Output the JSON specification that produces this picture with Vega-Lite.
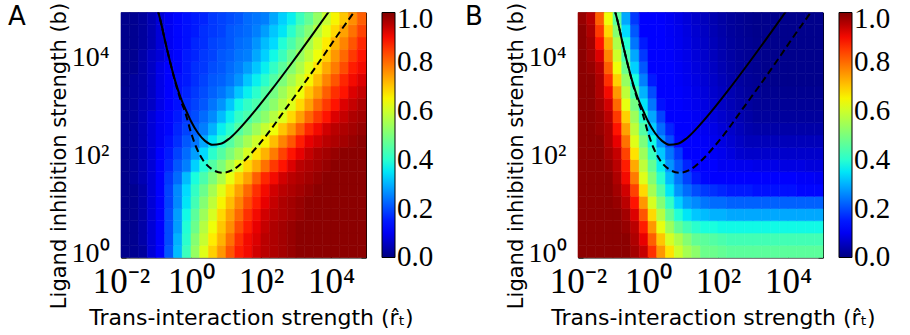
{
"$schema":"https://vega.github.io/schema/vega-lite/v6.json",
"background":"white",
"padding":{"left":7,"top":1.5,"right":0,"bottom":0},
"datasets":{
"A":[
{"x":-1.875,"y":0.125,"v":0.01},{"x":-1.625,"y":0.125,"v":0.015},{"x":-1.375,"y":0.125,"v":0.025},{"x":-1.125,"y":0.125,"v":0.075},{"x":-0.875,"y":0.125,"v":0.115},{"x":-0.625,"y":0.125,"v":0.21},{"x":-0.375,"y":0.125,"v":0.31},{"x":-0.125,"y":0.125,"v":0.42},{"x":0.125,"y":0.125,"v":0.53},{"x":0.375,"y":0.125,"v":0.62},{"x":0.625,"y":0.125,"v":0.69},{"x":0.875,"y":0.125,"v":0.75},{"x":1.125,"y":0.125,"v":0.82},{"x":1.375,"y":0.125,"v":0.88},{"x":1.625,"y":0.125,"v":0.9},{"x":1.875,"y":0.125,"v":0.93},{"x":2.125,"y":0.125,"v":0.95},{"x":2.375,"y":0.125,"v":0.96},{"x":2.625,"y":0.125,"v":0.97},{"x":2.875,"y":0.125,"v":0.98},{"x":3.125,"y":0.125,"v":0.99},{"x":3.375,"y":0.125,"v":0.99},{"x":3.625,"y":0.125,"v":0.99},{"x":3.875,"y":0.125,"v":0.99},{"x":4.125,"y":0.125,"v":0.99},{"x":4.375,"y":0.125,"v":0.99},{"x":4.625,"y":0.125,"v":0.99},{"x":4.875,"y":0.125,"v":0.99},
{"x":-1.875,"y":0.375,"v":0.01},{"x":-1.625,"y":0.375,"v":0.015},{"x":-1.375,"y":0.375,"v":0.035},{"x":-1.125,"y":0.375,"v":0.075},{"x":-0.875,"y":0.375,"v":0.115},{"x":-0.625,"y":0.375,"v":0.2},{"x":-0.375,"y":0.375,"v":0.3},{"x":-0.125,"y":0.375,"v":0.4},{"x":0.125,"y":0.375,"v":0.51},{"x":0.375,"y":0.375,"v":0.59},{"x":0.625,"y":0.375,"v":0.66},{"x":0.875,"y":0.375,"v":0.72},{"x":1.125,"y":0.375,"v":0.79},{"x":1.375,"y":0.375,"v":0.86},{"x":1.625,"y":0.375,"v":0.9},{"x":1.875,"y":0.375,"v":0.92},{"x":2.125,"y":0.375,"v":0.95},{"x":2.375,"y":0.375,"v":0.96},{"x":2.625,"y":0.375,"v":0.97},{"x":2.875,"y":0.375,"v":0.98},{"x":3.125,"y":0.375,"v":0.99},{"x":3.375,"y":0.375,"v":0.99},{"x":3.625,"y":0.375,"v":0.99},{"x":3.875,"y":0.375,"v":0.99},{"x":4.125,"y":0.375,"v":0.99},{"x":4.375,"y":0.375,"v":0.99},{"x":4.625,"y":0.375,"v":0.99},{"x":4.875,"y":0.375,"v":0.99},
{"x":-1.875,"y":0.625,"v":0.01},{"x":-1.625,"y":0.625,"v":0.015},{"x":-1.375,"y":0.625,"v":0.035},{"x":-1.125,"y":0.625,"v":0.075},{"x":-0.875,"y":0.625,"v":0.115},{"x":-0.625,"y":0.625,"v":0.2},{"x":-0.375,"y":0.625,"v":0.28},{"x":-0.125,"y":0.625,"v":0.39},{"x":0.125,"y":0.625,"v":0.48},{"x":0.375,"y":0.625,"v":0.57},{"x":0.625,"y":0.625,"v":0.64},{"x":0.875,"y":0.625,"v":0.7},{"x":1.125,"y":0.625,"v":0.76},{"x":1.375,"y":0.625,"v":0.83},{"x":1.625,"y":0.625,"v":0.88},{"x":1.875,"y":0.625,"v":0.91},{"x":2.125,"y":0.625,"v":0.94},{"x":2.375,"y":0.625,"v":0.96},{"x":2.625,"y":0.625,"v":0.97},{"x":2.875,"y":0.625,"v":0.98},{"x":3.125,"y":0.625,"v":0.99},{"x":3.375,"y":0.625,"v":0.99},{"x":3.625,"y":0.625,"v":0.99},{"x":3.875,"y":0.625,"v":0.99},{"x":4.125,"y":0.625,"v":0.99},{"x":4.375,"y":0.625,"v":0.99},{"x":4.625,"y":0.625,"v":0.99},{"x":4.875,"y":0.625,"v":0.99},
{"x":-1.875,"y":0.875,"v":0.01},{"x":-1.625,"y":0.875,"v":0.015},{"x":-1.375,"y":0.875,"v":0.035},{"x":-1.125,"y":0.875,"v":0.075},{"x":-0.875,"y":0.875,"v":0.115},{"x":-0.625,"y":0.875,"v":0.2},{"x":-0.375,"y":0.875,"v":0.28},{"x":-0.125,"y":0.875,"v":0.37},{"x":0.125,"y":0.875,"v":0.46},{"x":0.375,"y":0.875,"v":0.54},{"x":0.625,"y":0.875,"v":0.61},{"x":0.875,"y":0.875,"v":0.68},{"x":1.125,"y":0.875,"v":0.74},{"x":1.375,"y":0.875,"v":0.8},{"x":1.625,"y":0.875,"v":0.86},{"x":1.875,"y":0.875,"v":0.9},{"x":2.125,"y":0.875,"v":0.93},{"x":2.375,"y":0.875,"v":0.95},{"x":2.625,"y":0.875,"v":0.96},{"x":2.875,"y":0.875,"v":0.97},{"x":3.125,"y":0.875,"v":0.98},{"x":3.375,"y":0.875,"v":0.99},{"x":3.625,"y":0.875,"v":0.99},{"x":3.875,"y":0.875,"v":0.99},{"x":4.125,"y":0.875,"v":0.99},{"x":4.375,"y":0.875,"v":0.99},{"x":4.625,"y":0.875,"v":0.99},{"x":4.875,"y":0.875,"v":0.99},
{"x":-1.875,"y":1.125,"v":0.01},{"x":-1.625,"y":1.125,"v":0.015},{"x":-1.375,"y":1.125,"v":0.035},{"x":-1.125,"y":1.125,"v":0.075},{"x":-0.875,"y":1.125,"v":0.115},{"x":-0.625,"y":1.125,"v":0.19},{"x":-0.375,"y":1.125,"v":0.26},{"x":-0.125,"y":1.125,"v":0.35},{"x":0.125,"y":1.125,"v":0.43},{"x":0.375,"y":1.125,"v":0.51},{"x":0.625,"y":1.125,"v":0.58},{"x":0.875,"y":1.125,"v":0.65},{"x":1.125,"y":1.125,"v":0.71},{"x":1.375,"y":1.125,"v":0.77},{"x":1.625,"y":1.125,"v":0.83},{"x":1.875,"y":1.125,"v":0.88},{"x":2.125,"y":1.125,"v":0.91},{"x":2.375,"y":1.125,"v":0.94},{"x":2.625,"y":1.125,"v":0.96},{"x":2.875,"y":1.125,"v":0.97},{"x":3.125,"y":1.125,"v":0.98},{"x":3.375,"y":1.125,"v":0.99},{"x":3.625,"y":1.125,"v":0.99},{"x":3.875,"y":1.125,"v":0.99},{"x":4.125,"y":1.125,"v":0.99},{"x":4.375,"y":1.125,"v":0.99},{"x":4.625,"y":1.125,"v":0.99},{"x":4.875,"y":1.125,"v":0.99},
{"x":-1.875,"y":1.375,"v":0.01},{"x":-1.625,"y":1.375,"v":0.015},{"x":-1.375,"y":1.375,"v":0.035},{"x":-1.125,"y":1.375,"v":0.075},{"x":-0.875,"y":1.375,"v":0.115},{"x":-0.625,"y":1.375,"v":0.19},{"x":-0.375,"y":1.375,"v":0.26},{"x":-0.125,"y":1.375,"v":0.34},{"x":0.125,"y":1.375,"v":0.41},{"x":0.375,"y":1.375,"v":0.48},{"x":0.625,"y":1.375,"v":0.55},{"x":0.875,"y":1.375,"v":0.62},{"x":1.125,"y":1.375,"v":0.68},{"x":1.375,"y":1.375,"v":0.74},{"x":1.625,"y":1.375,"v":0.8},{"x":1.875,"y":1.375,"v":0.86},{"x":2.125,"y":1.375,"v":0.9},{"x":2.375,"y":1.375,"v":0.93},{"x":2.625,"y":1.375,"v":0.95},{"x":2.875,"y":1.375,"v":0.96},{"x":3.125,"y":1.375,"v":0.97},{"x":3.375,"y":1.375,"v":0.98},{"x":3.625,"y":1.375,"v":0.99},{"x":3.875,"y":1.375,"v":0.99},{"x":4.125,"y":1.375,"v":0.99},{"x":4.375,"y":1.375,"v":0.99},{"x":4.625,"y":1.375,"v":0.99},{"x":4.875,"y":1.375,"v":0.99},
{"x":-1.875,"y":1.625,"v":0.01},{"x":-1.625,"y":1.625,"v":0.025},{"x":-1.375,"y":1.625,"v":0.045},{"x":-1.125,"y":1.625,"v":0.075},{"x":-0.875,"y":1.625,"v":0.115},{"x":-0.625,"y":1.625,"v":0.18},{"x":-0.375,"y":1.625,"v":0.23},{"x":-0.125,"y":1.625,"v":0.31},{"x":0.125,"y":1.625,"v":0.38},{"x":0.375,"y":1.625,"v":0.44},{"x":0.625,"y":1.625,"v":0.5},{"x":0.875,"y":1.625,"v":0.56},{"x":1.125,"y":1.625,"v":0.63},{"x":1.375,"y":1.625,"v":0.69},{"x":1.625,"y":1.625,"v":0.74},{"x":1.875,"y":1.625,"v":0.81},{"x":2.125,"y":1.625,"v":0.87},{"x":2.375,"y":1.625,"v":0.9},{"x":2.625,"y":1.625,"v":0.93},{"x":2.875,"y":1.625,"v":0.95},{"x":3.125,"y":1.625,"v":0.96},{"x":3.375,"y":1.625,"v":0.97},{"x":3.625,"y":1.625,"v":0.98},{"x":3.875,"y":1.625,"v":0.99},{"x":4.125,"y":1.625,"v":0.99},{"x":4.375,"y":1.625,"v":0.99},{"x":4.625,"y":1.625,"v":0.99},{"x":4.875,"y":1.625,"v":0.99},
{"x":-1.875,"y":1.875,"v":0.01},{"x":-1.625,"y":1.875,"v":0.025},{"x":-1.375,"y":1.875,"v":0.045},{"x":-1.125,"y":1.875,"v":0.075},{"x":-0.875,"y":1.875,"v":0.115},{"x":-0.625,"y":1.875,"v":0.16},{"x":-0.375,"y":1.875,"v":0.21},{"x":-0.125,"y":1.875,"v":0.25},{"x":0.125,"y":1.875,"v":0.33},{"x":0.375,"y":1.875,"v":0.39},{"x":0.625,"y":1.875,"v":0.45},{"x":0.875,"y":1.875,"v":0.5},{"x":1.125,"y":1.875,"v":0.56},{"x":1.375,"y":1.875,"v":0.62},{"x":1.625,"y":1.875,"v":0.68},{"x":1.875,"y":1.875,"v":0.73},{"x":2.125,"y":1.875,"v":0.79},{"x":2.375,"y":1.875,"v":0.85},{"x":2.625,"y":1.875,"v":0.89},{"x":2.875,"y":1.875,"v":0.92},{"x":3.125,"y":1.875,"v":0.95},{"x":3.375,"y":1.875,"v":0.96},{"x":3.625,"y":1.875,"v":0.97},{"x":3.875,"y":1.875,"v":0.98},{"x":4.125,"y":1.875,"v":0.99},{"x":4.375,"y":1.875,"v":0.99},{"x":4.625,"y":1.875,"v":0.99},{"x":4.875,"y":1.875,"v":0.99},
{"x":-1.875,"y":2.125,"v":0.01},{"x":-1.625,"y":2.125,"v":0.025},{"x":-1.375,"y":2.125,"v":0.045},{"x":-1.125,"y":2.125,"v":0.075},{"x":-0.875,"y":2.125,"v":0.115},{"x":-0.625,"y":2.125,"v":0.15},{"x":-0.375,"y":2.125,"v":0.19},{"x":-0.125,"y":2.125,"v":0.23},{"x":0.125,"y":2.125,"v":0.28},{"x":0.375,"y":2.125,"v":0.34},{"x":0.625,"y":2.125,"v":0.4},{"x":0.875,"y":2.125,"v":0.45},{"x":1.125,"y":2.125,"v":0.5},{"x":1.375,"y":2.125,"v":0.55},{"x":1.625,"y":2.125,"v":0.61},{"x":1.875,"y":2.125,"v":0.67},{"x":2.125,"y":2.125,"v":0.72},{"x":2.375,"y":2.125,"v":0.78},{"x":2.625,"y":2.125,"v":0.84},{"x":2.875,"y":2.125,"v":0.89},{"x":3.125,"y":2.125,"v":0.91},{"x":3.375,"y":2.125,"v":0.94},{"x":3.625,"y":2.125,"v":0.96},{"x":3.875,"y":2.125,"v":0.97},{"x":4.125,"y":2.125,"v":0.98},{"x":4.375,"y":2.125,"v":0.99},{"x":4.625,"y":2.125,"v":0.99},{"x":4.875,"y":2.125,"v":0.99},
{"x":-1.875,"y":2.375,"v":0.015},{"x":-1.625,"y":2.375,"v":0.025},{"x":-1.375,"y":2.375,"v":0.045},{"x":-1.125,"y":2.375,"v":0.075},{"x":-0.875,"y":2.375,"v":0.1},{"x":-0.625,"y":2.375,"v":0.14},{"x":-0.375,"y":2.375,"v":0.17},{"x":-0.125,"y":2.375,"v":0.21},{"x":0.125,"y":2.375,"v":0.24},{"x":0.375,"y":2.375,"v":0.29},{"x":0.625,"y":2.375,"v":0.35},{"x":0.875,"y":2.375,"v":0.4},{"x":1.125,"y":2.375,"v":0.45},{"x":1.375,"y":2.375,"v":0.5},{"x":1.625,"y":2.375,"v":0.55},{"x":1.875,"y":2.375,"v":0.6},{"x":2.125,"y":2.375,"v":0.65},{"x":2.375,"y":2.375,"v":0.71},{"x":2.625,"y":2.375,"v":0.77},{"x":2.875,"y":2.375,"v":0.82},{"x":3.125,"y":2.375,"v":0.88},{"x":3.375,"y":2.375,"v":0.91},{"x":3.625,"y":2.375,"v":0.93},{"x":3.875,"y":2.375,"v":0.95},{"x":4.125,"y":2.375,"v":0.96},{"x":4.375,"y":2.375,"v":0.97},{"x":4.625,"y":2.375,"v":0.98},{"x":4.875,"y":2.375,"v":0.99},
{"x":-1.875,"y":2.625,"v":0.015},{"x":-1.625,"y":2.625,"v":0.025},{"x":-1.375,"y":2.625,"v":0.045},{"x":-1.125,"y":2.625,"v":0.075},{"x":-0.875,"y":2.625,"v":0.1},{"x":-0.625,"y":2.625,"v":0.13},{"x":-0.375,"y":2.625,"v":0.16},{"x":-0.125,"y":2.625,"v":0.19},{"x":0.125,"y":2.625,"v":0.22},{"x":0.375,"y":2.625,"v":0.25},{"x":0.625,"y":2.625,"v":0.3},{"x":0.875,"y":2.625,"v":0.36},{"x":1.125,"y":2.625,"v":0.4},{"x":1.375,"y":2.625,"v":0.45},{"x":1.625,"y":2.625,"v":0.49},{"x":1.875,"y":2.625,"v":0.54},{"x":2.125,"y":2.625,"v":0.59},{"x":2.375,"y":2.625,"v":0.64},{"x":2.625,"y":2.625,"v":0.7},{"x":2.875,"y":2.625,"v":0.75},{"x":3.125,"y":2.625,"v":0.81},{"x":3.375,"y":2.625,"v":0.87},{"x":3.625,"y":2.625,"v":0.9},{"x":3.875,"y":2.625,"v":0.93},{"x":4.125,"y":2.625,"v":0.95},{"x":4.375,"y":2.625,"v":0.96},{"x":4.625,"y":2.625,"v":0.97},{"x":4.875,"y":2.625,"v":0.98},
{"x":-1.875,"y":2.875,"v":0.015},{"x":-1.625,"y":2.875,"v":0.025},{"x":-1.375,"y":2.875,"v":0.045},{"x":-1.125,"y":2.875,"v":0.075},{"x":-0.875,"y":2.875,"v":0.1},{"x":-0.625,"y":2.875,"v":0.13},{"x":-0.375,"y":2.875,"v":0.15},{"x":-0.125,"y":2.875,"v":0.18},{"x":0.125,"y":2.875,"v":0.2},{"x":0.375,"y":2.875,"v":0.23},{"x":0.625,"y":2.875,"v":0.26},{"x":0.875,"y":2.875,"v":0.31},{"x":1.125,"y":2.875,"v":0.36},{"x":1.375,"y":2.875,"v":0.41},{"x":1.625,"y":2.875,"v":0.44},{"x":1.875,"y":2.875,"v":0.48},{"x":2.125,"y":2.875,"v":0.52},{"x":2.375,"y":2.875,"v":0.57},{"x":2.625,"y":2.875,"v":0.62},{"x":2.875,"y":2.875,"v":0.68},{"x":3.125,"y":2.875,"v":0.74},{"x":3.375,"y":2.875,"v":0.8},{"x":3.625,"y":2.875,"v":0.85},{"x":3.875,"y":2.875,"v":0.89},{"x":4.125,"y":2.875,"v":0.92},{"x":4.375,"y":2.875,"v":0.94},{"x":4.625,"y":2.875,"v":0.96},{"x":4.875,"y":2.875,"v":0.97},
{"x":-1.875,"y":3.125,"v":0.015},{"x":-1.625,"y":3.125,"v":0.025},{"x":-1.375,"y":3.125,"v":0.045},{"x":-1.125,"y":3.125,"v":0.06},{"x":-0.875,"y":3.125,"v":0.09},{"x":-0.625,"y":3.125,"v":0.115},{"x":-0.375,"y":3.125,"v":0.14},{"x":-0.125,"y":3.125,"v":0.17},{"x":0.125,"y":3.125,"v":0.19},{"x":0.375,"y":3.125,"v":0.21},{"x":0.625,"y":3.125,"v":0.24},{"x":0.875,"y":3.125,"v":0.27},{"x":1.125,"y":3.125,"v":0.32},{"x":1.375,"y":3.125,"v":0.37},{"x":1.625,"y":3.125,"v":0.41},{"x":1.875,"y":3.125,"v":0.44},{"x":2.125,"y":3.125,"v":0.48},{"x":2.375,"y":3.125,"v":0.52},{"x":2.625,"y":3.125,"v":0.57},{"x":2.875,"y":3.125,"v":0.62},{"x":3.125,"y":3.125,"v":0.68},{"x":3.375,"y":3.125,"v":0.74},{"x":3.625,"y":3.125,"v":0.8},{"x":3.875,"y":3.125,"v":0.85},{"x":4.125,"y":3.125,"v":0.89},{"x":4.375,"y":3.125,"v":0.92},{"x":4.625,"y":3.125,"v":0.94},{"x":4.875,"y":3.125,"v":0.96},
{"x":-1.875,"y":3.375,"v":0.015},{"x":-1.625,"y":3.375,"v":0.025},{"x":-1.375,"y":3.375,"v":0.035},{"x":-1.125,"y":3.375,"v":0.06},{"x":-0.875,"y":3.375,"v":0.09},{"x":-0.625,"y":3.375,"v":0.115},{"x":-0.375,"y":3.375,"v":0.14},{"x":-0.125,"y":3.375,"v":0.16},{"x":0.125,"y":3.375,"v":0.18},{"x":0.375,"y":3.375,"v":0.2},{"x":0.625,"y":3.375,"v":0.22},{"x":0.875,"y":3.375,"v":0.24},{"x":1.125,"y":3.375,"v":0.27},{"x":1.375,"y":3.375,"v":0.32},{"x":1.625,"y":3.375,"v":0.36},{"x":1.875,"y":3.375,"v":0.4},{"x":2.125,"y":3.375,"v":0.45},{"x":2.375,"y":3.375,"v":0.49},{"x":2.625,"y":3.375,"v":0.54},{"x":2.875,"y":3.375,"v":0.59},{"x":3.125,"y":3.375,"v":0.64},{"x":3.375,"y":3.375,"v":0.7},{"x":3.625,"y":3.375,"v":0.75},{"x":3.875,"y":3.375,"v":0.81},{"x":4.125,"y":3.375,"v":0.86},{"x":4.375,"y":3.375,"v":0.89},{"x":4.625,"y":3.375,"v":0.92},{"x":4.875,"y":3.375,"v":0.94},
{"x":-1.875,"y":3.625,"v":0.01},{"x":-1.625,"y":3.625,"v":0.025},{"x":-1.375,"y":3.625,"v":0.035},{"x":-1.125,"y":3.625,"v":0.06},{"x":-0.875,"y":3.625,"v":0.09},{"x":-0.625,"y":3.625,"v":0.115},{"x":-0.375,"y":3.625,"v":0.14},{"x":-0.125,"y":3.625,"v":0.15},{"x":0.125,"y":3.625,"v":0.17},{"x":0.375,"y":3.625,"v":0.19},{"x":0.625,"y":3.625,"v":0.21},{"x":0.875,"y":3.625,"v":0.22},{"x":1.125,"y":3.625,"v":0.24},{"x":1.375,"y":3.625,"v":0.27},{"x":1.625,"y":3.625,"v":0.32},{"x":1.875,"y":3.625,"v":0.36},{"x":2.125,"y":3.625,"v":0.4},{"x":2.375,"y":3.625,"v":0.45},{"x":2.625,"y":3.625,"v":0.5},{"x":2.875,"y":3.625,"v":0.55},{"x":3.125,"y":3.625,"v":0.6},{"x":3.375,"y":3.625,"v":0.65},{"x":3.625,"y":3.625,"v":0.71},{"x":3.875,"y":3.625,"v":0.77},{"x":4.125,"y":3.625,"v":0.82},{"x":4.375,"y":3.625,"v":0.87},{"x":4.625,"y":3.625,"v":0.9},{"x":4.875,"y":3.625,"v":0.92},
{"x":-1.875,"y":3.875,"v":0.01},{"x":-1.625,"y":3.875,"v":0.015},{"x":-1.375,"y":3.875,"v":0.035},{"x":-1.125,"y":3.875,"v":0.06},{"x":-0.875,"y":3.875,"v":0.09},{"x":-0.625,"y":3.875,"v":0.115},{"x":-0.375,"y":3.875,"v":0.13},{"x":-0.125,"y":3.875,"v":0.15},{"x":0.125,"y":3.875,"v":0.17},{"x":0.375,"y":3.875,"v":0.18},{"x":0.625,"y":3.875,"v":0.2},{"x":0.875,"y":3.875,"v":0.21},{"x":1.125,"y":3.875,"v":0.23},{"x":1.375,"y":3.875,"v":0.25},{"x":1.625,"y":3.875,"v":0.28},{"x":1.875,"y":3.875,"v":0.32},{"x":2.125,"y":3.875,"v":0.36},{"x":2.375,"y":3.875,"v":0.41},{"x":2.625,"y":3.875,"v":0.46},{"x":2.875,"y":3.875,"v":0.51},{"x":3.125,"y":3.875,"v":0.56},{"x":3.375,"y":3.875,"v":0.62},{"x":3.625,"y":3.875,"v":0.67},{"x":3.875,"y":3.875,"v":0.73},{"x":4.125,"y":3.875,"v":0.78},{"x":4.375,"y":3.875,"v":0.83},{"x":4.625,"y":3.875,"v":0.88},{"x":4.875,"y":3.875,"v":0.9},
{"x":-1.875,"y":4.125,"v":0.01},{"x":-1.625,"y":4.125,"v":0.015},{"x":-1.375,"y":4.125,"v":0.035},{"x":-1.125,"y":4.125,"v":0.06},{"x":-0.875,"y":4.125,"v":0.075},{"x":-0.625,"y":4.125,"v":0.1},{"x":-0.375,"y":4.125,"v":0.13},{"x":-0.125,"y":4.125,"v":0.15},{"x":0.125,"y":4.125,"v":0.16},{"x":0.375,"y":4.125,"v":0.18},{"x":0.625,"y":4.125,"v":0.19},{"x":0.875,"y":4.125,"v":0.21},{"x":1.125,"y":4.125,"v":0.22},{"x":1.375,"y":4.125,"v":0.24},{"x":1.625,"y":4.125,"v":0.25},{"x":1.875,"y":4.125,"v":0.29},{"x":2.125,"y":4.125,"v":0.33},{"x":2.375,"y":4.125,"v":0.37},{"x":2.625,"y":4.125,"v":0.42},{"x":2.875,"y":4.125,"v":0.48},{"x":3.125,"y":4.125,"v":0.53},{"x":3.375,"y":4.125,"v":0.58},{"x":3.625,"y":4.125,"v":0.64},{"x":3.875,"y":4.125,"v":0.69},{"x":4.125,"y":4.125,"v":0.75},{"x":4.375,"y":4.125,"v":0.8},{"x":4.625,"y":4.125,"v":0.85},{"x":4.875,"y":4.125,"v":0.89},
{"x":-1.875,"y":4.375,"v":0.01},{"x":-1.625,"y":4.375,"v":0.015},{"x":-1.375,"y":4.375,"v":0.025},{"x":-1.125,"y":4.375,"v":0.045},{"x":-0.875,"y":4.375,"v":0.075},{"x":-0.625,"y":4.375,"v":0.1},{"x":-0.375,"y":4.375,"v":0.13},{"x":-0.125,"y":4.375,"v":0.14},{"x":0.125,"y":4.375,"v":0.16},{"x":0.375,"y":4.375,"v":0.17},{"x":0.625,"y":4.375,"v":0.19},{"x":0.875,"y":4.375,"v":0.2},{"x":1.125,"y":4.375,"v":0.21},{"x":1.375,"y":4.375,"v":0.23},{"x":1.625,"y":4.375,"v":0.24},{"x":1.875,"y":4.375,"v":0.27},{"x":2.125,"y":4.375,"v":0.31},{"x":2.375,"y":4.375,"v":0.34},{"x":2.625,"y":4.375,"v":0.39},{"x":2.875,"y":4.375,"v":0.44},{"x":3.125,"y":4.375,"v":0.49},{"x":3.375,"y":4.375,"v":0.55},{"x":3.625,"y":4.375,"v":0.61},{"x":3.875,"y":4.375,"v":0.66},{"x":4.125,"y":4.375,"v":0.72},{"x":4.375,"y":4.375,"v":0.77},{"x":4.625,"y":4.375,"v":0.82},{"x":4.875,"y":4.375,"v":0.87},
{"x":-1.875,"y":4.625,"v":0.01},{"x":-1.625,"y":4.625,"v":0.015},{"x":-1.375,"y":4.625,"v":0.025},{"x":-1.125,"y":4.625,"v":0.045},{"x":-0.875,"y":4.625,"v":0.075},{"x":-0.625,"y":4.625,"v":0.1},{"x":-0.375,"y":4.625,"v":0.13},{"x":-0.125,"y":4.625,"v":0.14},{"x":0.125,"y":4.625,"v":0.15},{"x":0.375,"y":4.625,"v":0.17},{"x":0.625,"y":4.625,"v":0.18},{"x":0.875,"y":4.625,"v":0.19},{"x":1.125,"y":4.625,"v":0.21},{"x":1.375,"y":4.625,"v":0.22},{"x":1.625,"y":4.625,"v":0.23},{"x":1.875,"y":4.625,"v":0.25},{"x":2.125,"y":4.625,"v":0.28},{"x":2.375,"y":4.625,"v":0.32},{"x":2.625,"y":4.625,"v":0.35},{"x":2.875,"y":4.625,"v":0.4},{"x":3.125,"y":4.625,"v":0.46},{"x":3.375,"y":4.625,"v":0.51},{"x":3.625,"y":4.625,"v":0.57},{"x":3.875,"y":4.625,"v":0.63},{"x":4.125,"y":4.625,"v":0.68},{"x":4.375,"y":4.625,"v":0.74},{"x":4.625,"y":4.625,"v":0.79},{"x":4.875,"y":4.625,"v":0.84},
{"x":-1.875,"y":4.875,"v":0.01},{"x":-1.625,"y":4.875,"v":0.015},{"x":-1.375,"y":4.875,"v":0.025},{"x":-1.125,"y":4.875,"v":0.045},{"x":-0.875,"y":4.875,"v":0.075},{"x":-0.625,"y":4.875,"v":0.1},{"x":-0.375,"y":4.875,"v":0.13},{"x":-0.125,"y":4.875,"v":0.14},{"x":0.125,"y":4.875,"v":0.15},{"x":0.375,"y":4.875,"v":0.16},{"x":0.625,"y":4.875,"v":0.18},{"x":0.875,"y":4.875,"v":0.19},{"x":1.125,"y":4.875,"v":0.2},{"x":1.375,"y":4.875,"v":0.21},{"x":1.625,"y":4.875,"v":0.23},{"x":1.875,"y":4.875,"v":0.24},{"x":2.125,"y":4.875,"v":0.25},{"x":2.375,"y":4.875,"v":0.29},{"x":2.625,"y":4.875,"v":0.33},{"x":2.875,"y":4.875,"v":0.36},{"x":3.125,"y":4.875,"v":0.42},{"x":3.375,"y":4.875,"v":0.47},{"x":3.625,"y":4.875,"v":0.53},{"x":3.875,"y":4.875,"v":0.59},{"x":4.125,"y":4.875,"v":0.65},{"x":4.375,"y":4.875,"v":0.7},{"x":4.625,"y":4.875,"v":0.76},{"x":4.875,"y":4.875,"v":0.81}
],
"B":[
{"x":-1.875,"y":0.125,"v":0.99},{"x":-1.625,"y":0.125,"v":0.99},{"x":-1.375,"y":0.125,"v":0.99},{"x":-1.125,"y":0.125,"v":0.99},{"x":-0.875,"y":0.125,"v":0.99},{"x":-0.625,"y":0.125,"v":0.99},{"x":-0.375,"y":0.125,"v":0.97},{"x":-0.125,"y":0.125,"v":0.94},{"x":0.125,"y":0.125,"v":0.86},{"x":0.375,"y":0.125,"v":0.75},{"x":0.625,"y":0.125,"v":0.67},{"x":0.875,"y":0.125,"v":0.6},{"x":1.125,"y":0.125,"v":0.55},{"x":1.375,"y":0.125,"v":0.52},{"x":1.625,"y":0.125,"v":0.48},{"x":1.875,"y":0.125,"v":0.48},{"x":2.125,"y":0.125,"v":0.47},{"x":2.375,"y":0.125,"v":0.46},{"x":2.625,"y":0.125,"v":0.46},{"x":2.875,"y":0.125,"v":0.46},{"x":3.125,"y":0.125,"v":0.46},{"x":3.375,"y":0.125,"v":0.46},{"x":3.625,"y":0.125,"v":0.46},{"x":3.875,"y":0.125,"v":0.46},{"x":4.125,"y":0.125,"v":0.46},{"x":4.375,"y":0.125,"v":0.46},{"x":4.625,"y":0.125,"v":0.46},{"x":4.875,"y":0.125,"v":0.46},
{"x":-1.875,"y":0.375,"v":0.99},{"x":-1.625,"y":0.375,"v":0.99},{"x":-1.375,"y":0.375,"v":0.99},{"x":-1.125,"y":0.375,"v":0.99},{"x":-0.875,"y":0.375,"v":0.99},{"x":-0.625,"y":0.375,"v":0.99},{"x":-0.375,"y":0.375,"v":0.96},{"x":-0.125,"y":0.375,"v":0.91},{"x":0.125,"y":0.375,"v":0.81},{"x":0.375,"y":0.375,"v":0.7},{"x":0.625,"y":0.375,"v":0.61},{"x":0.875,"y":0.375,"v":0.56},{"x":1.125,"y":0.375,"v":0.51},{"x":1.375,"y":0.375,"v":0.47},{"x":1.625,"y":0.375,"v":0.46},{"x":1.875,"y":0.375,"v":0.45},{"x":2.125,"y":0.375,"v":0.44},{"x":2.375,"y":0.375,"v":0.43},{"x":2.625,"y":0.375,"v":0.43},{"x":2.875,"y":0.375,"v":0.43},{"x":3.125,"y":0.375,"v":0.43},{"x":3.375,"y":0.375,"v":0.43},{"x":3.625,"y":0.375,"v":0.43},{"x":3.875,"y":0.375,"v":0.43},{"x":4.125,"y":0.375,"v":0.43},{"x":4.375,"y":0.375,"v":0.43},{"x":4.625,"y":0.375,"v":0.43},{"x":4.875,"y":0.375,"v":0.43},
{"x":-1.875,"y":0.625,"v":0.99},{"x":-1.625,"y":0.625,"v":0.99},{"x":-1.375,"y":0.625,"v":0.99},{"x":-1.125,"y":0.625,"v":0.99},{"x":-0.875,"y":0.625,"v":0.99},{"x":-0.625,"y":0.625,"v":0.98},{"x":-0.375,"y":0.625,"v":0.95},{"x":-0.125,"y":0.625,"v":0.88},{"x":0.125,"y":0.625,"v":0.75},{"x":0.375,"y":0.625,"v":0.63},{"x":0.625,"y":0.625,"v":0.54},{"x":0.875,"y":0.625,"v":0.47},{"x":1.125,"y":0.625,"v":0.43},{"x":1.375,"y":0.625,"v":0.4},{"x":1.625,"y":0.625,"v":0.38},{"x":1.875,"y":0.625,"v":0.38},{"x":2.125,"y":0.625,"v":0.37},{"x":2.375,"y":0.625,"v":0.37},{"x":2.625,"y":0.625,"v":0.37},{"x":2.875,"y":0.625,"v":0.37},{"x":3.125,"y":0.625,"v":0.37},{"x":3.375,"y":0.625,"v":0.37},{"x":3.625,"y":0.625,"v":0.37},{"x":3.875,"y":0.625,"v":0.37},{"x":4.125,"y":0.625,"v":0.37},{"x":4.375,"y":0.625,"v":0.37},{"x":4.625,"y":0.625,"v":0.37},{"x":4.875,"y":0.625,"v":0.37},
{"x":-1.875,"y":0.875,"v":0.99},{"x":-1.625,"y":0.875,"v":0.99},{"x":-1.375,"y":0.875,"v":0.99},{"x":-1.125,"y":0.875,"v":0.99},{"x":-0.875,"y":0.875,"v":0.99},{"x":-0.625,"y":0.875,"v":0.97},{"x":-0.375,"y":0.875,"v":0.92},{"x":-0.125,"y":0.875,"v":0.82},{"x":0.125,"y":0.875,"v":0.68},{"x":0.375,"y":0.875,"v":0.57},{"x":0.625,"y":0.875,"v":0.47},{"x":0.875,"y":0.875,"v":0.39},{"x":1.125,"y":0.875,"v":0.35},{"x":1.375,"y":0.875,"v":0.32},{"x":1.625,"y":0.875,"v":0.31},{"x":1.875,"y":0.875,"v":0.3},{"x":2.125,"y":0.875,"v":0.3},{"x":2.375,"y":0.875,"v":0.29},{"x":2.625,"y":0.875,"v":0.29},{"x":2.875,"y":0.875,"v":0.29},{"x":3.125,"y":0.875,"v":0.29},{"x":3.375,"y":0.875,"v":0.29},{"x":3.625,"y":0.875,"v":0.29},{"x":3.875,"y":0.875,"v":0.29},{"x":4.125,"y":0.875,"v":0.29},{"x":4.375,"y":0.875,"v":0.29},{"x":4.625,"y":0.875,"v":0.29},{"x":4.875,"y":0.875,"v":0.29},
{"x":-1.875,"y":1.125,"v":0.99},{"x":-1.625,"y":1.125,"v":0.99},{"x":-1.375,"y":1.125,"v":0.99},{"x":-1.125,"y":1.125,"v":0.99},{"x":-0.875,"y":1.125,"v":0.98},{"x":-0.625,"y":1.125,"v":0.95},{"x":-0.375,"y":1.125,"v":0.89},{"x":-0.125,"y":1.125,"v":0.75},{"x":0.125,"y":1.125,"v":0.61},{"x":0.375,"y":1.125,"v":0.51},{"x":0.625,"y":1.125,"v":0.41},{"x":0.875,"y":1.125,"v":0.33},{"x":1.125,"y":1.125,"v":0.28},{"x":1.375,"y":1.125,"v":0.26},{"x":1.625,"y":1.125,"v":0.24},{"x":1.875,"y":1.125,"v":0.23},{"x":2.125,"y":1.125,"v":0.23},{"x":2.375,"y":1.125,"v":0.22},{"x":2.625,"y":1.125,"v":0.22},{"x":2.875,"y":1.125,"v":0.22},{"x":3.125,"y":1.125,"v":0.22},{"x":3.375,"y":1.125,"v":0.22},{"x":3.625,"y":1.125,"v":0.22},{"x":3.875,"y":1.125,"v":0.22},{"x":4.125,"y":1.125,"v":0.22},{"x":4.375,"y":1.125,"v":0.22},{"x":4.625,"y":1.125,"v":0.22},{"x":4.875,"y":1.125,"v":0.22},
{"x":-1.875,"y":1.375,"v":0.99},{"x":-1.625,"y":1.375,"v":0.99},{"x":-1.375,"y":1.375,"v":0.99},{"x":-1.125,"y":1.375,"v":0.99},{"x":-0.875,"y":1.375,"v":0.97},{"x":-0.625,"y":1.375,"v":0.93},{"x":-0.375,"y":1.375,"v":0.84},{"x":-0.125,"y":1.375,"v":0.68},{"x":0.125,"y":1.375,"v":0.55},{"x":0.375,"y":1.375,"v":0.45},{"x":0.625,"y":1.375,"v":0.35},{"x":0.875,"y":1.375,"v":0.27},{"x":1.125,"y":1.375,"v":0.23},{"x":1.375,"y":1.375,"v":0.2},{"x":1.625,"y":1.375,"v":0.18},{"x":1.875,"y":1.375,"v":0.17},{"x":2.125,"y":1.375,"v":0.16},{"x":2.375,"y":1.375,"v":0.15},{"x":2.625,"y":1.375,"v":0.15},{"x":2.875,"y":1.375,"v":0.15},{"x":3.125,"y":1.375,"v":0.14},{"x":3.375,"y":1.375,"v":0.14},{"x":3.625,"y":1.375,"v":0.14},{"x":3.875,"y":1.375,"v":0.14},{"x":4.125,"y":1.375,"v":0.14},{"x":4.375,"y":1.375,"v":0.13},{"x":4.625,"y":1.375,"v":0.13},{"x":4.875,"y":1.375,"v":0.13},
{"x":-1.875,"y":1.625,"v":0.99},{"x":-1.625,"y":1.625,"v":0.99},{"x":-1.375,"y":1.625,"v":0.99},{"x":-1.125,"y":1.625,"v":0.99},{"x":-0.875,"y":1.625,"v":0.96},{"x":-0.625,"y":1.625,"v":0.9},{"x":-0.375,"y":1.625,"v":0.78},{"x":-0.125,"y":1.625,"v":0.62},{"x":0.125,"y":1.625,"v":0.51},{"x":0.375,"y":1.625,"v":0.4},{"x":0.625,"y":1.625,"v":0.31},{"x":0.875,"y":1.625,"v":0.24},{"x":1.125,"y":1.625,"v":0.19},{"x":1.375,"y":1.625,"v":0.15},{"x":1.625,"y":1.625,"v":0.13},{"x":1.875,"y":1.625,"v":0.125},{"x":2.125,"y":1.625,"v":0.12},{"x":2.375,"y":1.625,"v":0.12},{"x":2.625,"y":1.625,"v":0.12},{"x":2.875,"y":1.625,"v":0.115},{"x":3.125,"y":1.625,"v":0.115},{"x":3.375,"y":1.625,"v":0.11},{"x":3.625,"y":1.625,"v":0.11},{"x":3.875,"y":1.625,"v":0.11},{"x":4.125,"y":1.625,"v":0.11},{"x":4.375,"y":1.625,"v":0.105},{"x":4.625,"y":1.625,"v":0.105},{"x":4.875,"y":1.625,"v":0.1},
{"x":-1.875,"y":1.875,"v":0.99},{"x":-1.625,"y":1.875,"v":0.99},{"x":-1.375,"y":1.875,"v":0.99},{"x":-1.125,"y":1.875,"v":0.98},{"x":-0.875,"y":1.875,"v":0.95},{"x":-0.625,"y":1.875,"v":0.88},{"x":-0.375,"y":1.875,"v":0.73},{"x":-0.125,"y":1.875,"v":0.58},{"x":0.125,"y":1.875,"v":0.47},{"x":0.375,"y":1.875,"v":0.36},{"x":0.625,"y":1.875,"v":0.27},{"x":0.875,"y":1.875,"v":0.21},{"x":1.125,"y":1.875,"v":0.16},{"x":1.375,"y":1.875,"v":0.125},{"x":1.625,"y":1.875,"v":0.115},{"x":1.875,"y":1.875,"v":0.11},{"x":2.125,"y":1.875,"v":0.1},{"x":2.375,"y":1.875,"v":0.1},{"x":2.625,"y":1.875,"v":0.095},{"x":2.875,"y":1.875,"v":0.095},{"x":3.125,"y":1.875,"v":0.09},{"x":3.375,"y":1.875,"v":0.09},{"x":3.625,"y":1.875,"v":0.09},{"x":3.875,"y":1.875,"v":0.085},{"x":4.125,"y":1.875,"v":0.085},{"x":4.375,"y":1.875,"v":0.085},{"x":4.625,"y":1.875,"v":0.08},{"x":4.875,"y":1.875,"v":0.08},
{"x":-1.875,"y":2.125,"v":0.99},{"x":-1.625,"y":2.125,"v":0.99},{"x":-1.375,"y":2.125,"v":0.99},{"x":-1.125,"y":2.125,"v":0.97},{"x":-0.875,"y":2.125,"v":0.94},{"x":-0.625,"y":2.125,"v":0.84},{"x":-0.375,"y":2.125,"v":0.67},{"x":-0.125,"y":2.125,"v":0.54},{"x":0.125,"y":2.125,"v":0.42},{"x":0.375,"y":2.125,"v":0.32},{"x":0.625,"y":2.125,"v":0.24},{"x":0.875,"y":2.125,"v":0.18},{"x":1.125,"y":2.125,"v":0.124},{"x":1.375,"y":2.125,"v":0.117},{"x":1.625,"y":2.125,"v":0.109},{"x":1.875,"y":2.125,"v":0.102},{"x":2.125,"y":2.125,"v":0.094},{"x":2.375,"y":2.125,"v":0.082},{"x":2.625,"y":2.125,"v":0.069},{"x":2.875,"y":2.125,"v":0.065},{"x":3.125,"y":2.125,"v":0.065},{"x":3.375,"y":2.125,"v":0.065},{"x":3.625,"y":2.125,"v":0.065},{"x":3.875,"y":2.125,"v":0.065},{"x":4.125,"y":2.125,"v":0.065},{"x":4.375,"y":2.125,"v":0.065},{"x":4.625,"y":2.125,"v":0.065},{"x":4.875,"y":2.125,"v":0.065},
{"x":-1.875,"y":2.375,"v":0.99},{"x":-1.625,"y":2.375,"v":0.99},{"x":-1.375,"y":2.375,"v":0.99},{"x":-1.125,"y":2.375,"v":0.96},{"x":-0.875,"y":2.375,"v":0.91},{"x":-0.625,"y":2.375,"v":0.79},{"x":-0.375,"y":2.375,"v":0.62},{"x":-0.125,"y":2.375,"v":0.5},{"x":0.125,"y":2.375,"v":0.37},{"x":0.375,"y":2.375,"v":0.27},{"x":0.625,"y":2.375,"v":0.2},{"x":0.875,"y":2.375,"v":0.13},{"x":1.125,"y":2.375,"v":0.119},{"x":1.375,"y":2.375,"v":0.111},{"x":1.625,"y":2.375,"v":0.104},{"x":1.875,"y":2.375,"v":0.096},{"x":2.125,"y":2.375,"v":0.085},{"x":2.375,"y":2.375,"v":0.072},{"x":2.625,"y":2.375,"v":0.06},{"x":2.875,"y":2.375,"v":0.05},{"x":3.125,"y":2.375,"v":0.05},{"x":3.375,"y":2.375,"v":0.05},{"x":3.625,"y":2.375,"v":0.05},{"x":3.875,"y":2.375,"v":0.05},{"x":4.125,"y":2.375,"v":0.05},{"x":4.375,"y":2.375,"v":0.05},{"x":4.625,"y":2.375,"v":0.05},{"x":4.875,"y":2.375,"v":0.05},
{"x":-1.875,"y":2.625,"v":0.99},{"x":-1.625,"y":2.625,"v":0.99},{"x":-1.375,"y":2.625,"v":0.98},{"x":-1.125,"y":2.625,"v":0.96},{"x":-0.875,"y":2.625,"v":0.89},{"x":-0.625,"y":2.625,"v":0.74},{"x":-0.375,"y":2.625,"v":0.58},{"x":-0.125,"y":2.625,"v":0.45},{"x":0.125,"y":2.625,"v":0.33},{"x":0.375,"y":2.625,"v":0.23},{"x":0.625,"y":2.625,"v":0.16},{"x":0.875,"y":2.625,"v":0.121},{"x":1.125,"y":2.625,"v":0.114},{"x":1.375,"y":2.625,"v":0.106},{"x":1.625,"y":2.625,"v":0.099},{"x":1.875,"y":2.625,"v":0.089},{"x":2.125,"y":2.625,"v":0.076},{"x":2.375,"y":2.625,"v":0.064},{"x":2.625,"y":2.625,"v":0.051},{"x":2.875,"y":2.625,"v":0.04},{"x":3.125,"y":2.625,"v":0.035},{"x":3.375,"y":2.625,"v":0.035},{"x":3.625,"y":2.625,"v":0.035},{"x":3.875,"y":2.625,"v":0.035},{"x":4.125,"y":2.625,"v":0.035},{"x":4.375,"y":2.625,"v":0.035},{"x":4.625,"y":2.625,"v":0.035},{"x":4.875,"y":2.625,"v":0.035},
{"x":-1.875,"y":2.875,"v":0.99},{"x":-1.625,"y":2.875,"v":0.99},{"x":-1.375,"y":2.875,"v":0.98},{"x":-1.125,"y":2.875,"v":0.95},{"x":-0.875,"y":2.875,"v":0.85},{"x":-0.625,"y":2.875,"v":0.69},{"x":-0.375,"y":2.875,"v":0.54},{"x":-0.125,"y":2.875,"v":0.4},{"x":0.125,"y":2.875,"v":0.29},{"x":0.375,"y":2.875,"v":0.19},{"x":0.625,"y":2.875,"v":0.123},{"x":0.875,"y":2.875,"v":0.116},{"x":1.125,"y":2.875,"v":0.108},{"x":1.375,"y":2.875,"v":0.101},{"x":1.625,"y":2.875,"v":0.092},{"x":1.875,"y":2.875,"v":0.08},{"x":2.125,"y":2.875,"v":0.067},{"x":2.375,"y":2.875,"v":0.055},{"x":2.625,"y":2.875,"v":0.043},{"x":2.875,"y":2.875,"v":0.033},{"x":3.125,"y":2.875,"v":0.025},{"x":3.375,"y":2.875,"v":0.025},{"x":3.625,"y":2.875,"v":0.025},{"x":3.875,"y":2.875,"v":0.025},{"x":4.125,"y":2.875,"v":0.025},{"x":4.375,"y":2.875,"v":0.025},{"x":4.625,"y":2.875,"v":0.025},{"x":4.875,"y":2.875,"v":0.025},
{"x":-1.875,"y":3.125,"v":0.99},{"x":-1.625,"y":3.125,"v":0.99},{"x":-1.375,"y":3.125,"v":0.97},{"x":-1.125,"y":3.125,"v":0.93},{"x":-0.875,"y":3.125,"v":0.8},{"x":-0.625,"y":3.125,"v":0.63},{"x":-0.375,"y":3.125,"v":0.49},{"x":-0.125,"y":3.125,"v":0.35},{"x":0.125,"y":3.125,"v":0.24},{"x":0.375,"y":3.125,"v":0.14},{"x":0.625,"y":3.125,"v":0.119},{"x":0.875,"y":3.125,"v":0.112},{"x":1.125,"y":3.125,"v":0.104},{"x":1.375,"y":3.125,"v":0.097},{"x":1.625,"y":3.125,"v":0.085},{"x":1.875,"y":3.125,"v":0.073},{"x":2.125,"y":3.125,"v":0.06},{"x":2.375,"y":3.125,"v":0.048},{"x":2.625,"y":3.125,"v":0.037},{"x":2.875,"y":3.125,"v":0.027},{"x":3.125,"y":3.125,"v":0.021},{"x":3.375,"y":3.125,"v":0.02},{"x":3.625,"y":3.125,"v":0.02},{"x":3.875,"y":3.125,"v":0.02},{"x":4.125,"y":3.125,"v":0.02},{"x":4.375,"y":3.125,"v":0.02},{"x":4.625,"y":3.125,"v":0.02},{"x":4.875,"y":3.125,"v":0.02},
{"x":-1.875,"y":3.375,"v":0.99},{"x":-1.625,"y":3.375,"v":0.99},{"x":-1.375,"y":3.375,"v":0.96},{"x":-1.125,"y":3.375,"v":0.9},{"x":-0.875,"y":3.375,"v":0.75},{"x":-0.625,"y":3.375,"v":0.58},{"x":-0.375,"y":3.375,"v":0.44},{"x":-0.125,"y":3.375,"v":0.3},{"x":0.125,"y":3.375,"v":0.2},{"x":0.375,"y":3.375,"v":0.123},{"x":0.625,"y":3.375,"v":0.116},{"x":0.875,"y":3.375,"v":0.108},{"x":1.125,"y":3.375,"v":0.101},{"x":1.375,"y":3.375,"v":0.092},{"x":1.625,"y":3.375,"v":0.08},{"x":1.875,"y":3.375,"v":0.067},{"x":2.125,"y":3.375,"v":0.055},{"x":2.375,"y":3.375,"v":0.043},{"x":2.625,"y":3.375,"v":0.033},{"x":2.875,"y":3.375,"v":0.024},{"x":3.125,"y":3.375,"v":0.019},{"x":3.375,"y":3.375,"v":0.015},{"x":3.625,"y":3.375,"v":0.015},{"x":3.875,"y":3.375,"v":0.015},{"x":4.125,"y":3.375,"v":0.015},{"x":4.375,"y":3.375,"v":0.015},{"x":4.625,"y":3.375,"v":0.015},{"x":4.875,"y":3.375,"v":0.015},
{"x":-1.875,"y":3.625,"v":0.99},{"x":-1.625,"y":3.625,"v":0.99},{"x":-1.375,"y":3.625,"v":0.96},{"x":-1.125,"y":3.625,"v":0.86},{"x":-0.875,"y":3.625,"v":0.69},{"x":-0.625,"y":3.625,"v":0.53},{"x":-0.375,"y":3.625,"v":0.38},{"x":-0.125,"y":3.625,"v":0.25},{"x":0.125,"y":3.625,"v":0.15},{"x":0.375,"y":3.625,"v":0.12},{"x":0.625,"y":3.625,"v":0.113},{"x":0.875,"y":3.625,"v":0.105},{"x":1.125,"y":3.625,"v":0.097},{"x":1.375,"y":3.625,"v":0.087},{"x":1.625,"y":3.625,"v":0.074},{"x":1.875,"y":3.625,"v":0.062},{"x":2.125,"y":3.625,"v":0.049},{"x":2.375,"y":3.625,"v":0.038},{"x":2.625,"y":3.625,"v":0.028},{"x":2.875,"y":3.625,"v":0.022},{"x":3.125,"y":3.625,"v":0.017},{"x":3.375,"y":3.625,"v":0.012},{"x":3.625,"y":3.625,"v":0.01},{"x":3.875,"y":3.625,"v":0.01},{"x":4.125,"y":3.625,"v":0.01},{"x":4.375,"y":3.625,"v":0.01},{"x":4.625,"y":3.625,"v":0.01},{"x":4.875,"y":3.625,"v":0.01},
{"x":-1.875,"y":3.875,"v":0.99},{"x":-1.625,"y":3.875,"v":0.98},{"x":-1.375,"y":3.875,"v":0.95},{"x":-1.125,"y":3.875,"v":0.81},{"x":-0.875,"y":3.875,"v":0.64},{"x":-0.625,"y":3.875,"v":0.48},{"x":-0.375,"y":3.875,"v":0.33},{"x":-0.125,"y":3.875,"v":0.21},{"x":0.125,"y":3.875,"v":0.125},{"x":0.375,"y":3.875,"v":0.118},{"x":0.625,"y":3.875,"v":0.11},{"x":0.875,"y":3.875,"v":0.103},{"x":1.125,"y":3.875,"v":0.094},{"x":1.375,"y":3.875,"v":0.082},{"x":1.625,"y":3.875,"v":0.069},{"x":1.875,"y":3.875,"v":0.057},{"x":2.125,"y":3.875,"v":0.044},{"x":2.375,"y":3.875,"v":0.034},{"x":2.625,"y":3.875,"v":0.025},{"x":2.875,"y":3.875,"v":0.02},{"x":3.125,"y":3.875,"v":0.015},{"x":3.375,"y":3.875,"v":0.01},{"x":3.625,"y":3.875,"v":0.01},{"x":3.875,"y":3.875,"v":0.01},{"x":4.125,"y":3.875,"v":0.01},{"x":4.375,"y":3.875,"v":0.01},{"x":4.625,"y":3.875,"v":0.01},{"x":4.875,"y":3.875,"v":0.01},
{"x":-1.875,"y":4.125,"v":0.99},{"x":-1.625,"y":4.125,"v":0.97},{"x":-1.375,"y":4.125,"v":0.92},{"x":-1.125,"y":4.125,"v":0.77},{"x":-0.875,"y":4.125,"v":0.6},{"x":-0.625,"y":4.125,"v":0.44},{"x":-0.375,"y":4.125,"v":0.29},{"x":-0.125,"y":4.125,"v":0.18},{"x":0.125,"y":4.125,"v":0.122},{"x":0.375,"y":4.125,"v":0.115},{"x":0.625,"y":4.125,"v":0.107},{"x":0.875,"y":4.125,"v":0.1},{"x":1.125,"y":4.125,"v":0.091},{"x":1.375,"y":4.125,"v":0.078},{"x":1.625,"y":4.125,"v":0.066},{"x":1.875,"y":4.125,"v":0.053},{"x":2.125,"y":4.125,"v":0.041},{"x":2.375,"y":4.125,"v":0.031},{"x":2.625,"y":4.125,"v":0.023},{"x":2.875,"y":4.125,"v":0.018},{"x":3.125,"y":4.125,"v":0.014},{"x":3.375,"y":4.125,"v":0.01},{"x":3.625,"y":4.125,"v":0.01},{"x":3.875,"y":4.125,"v":0.01},{"x":4.125,"y":4.125,"v":0.01},{"x":4.375,"y":4.125,"v":0.01},{"x":4.625,"y":4.125,"v":0.01},{"x":4.875,"y":4.125,"v":0.01},
{"x":-1.875,"y":4.375,"v":0.99},{"x":-1.625,"y":4.375,"v":0.97},{"x":-1.375,"y":4.375,"v":0.89},{"x":-1.125,"y":4.375,"v":0.73},{"x":-0.875,"y":4.375,"v":0.56},{"x":-0.625,"y":4.375,"v":0.39},{"x":-0.375,"y":4.375,"v":0.24},{"x":-0.125,"y":4.375,"v":0.15},{"x":0.125,"y":4.375,"v":0.12},{"x":0.375,"y":4.375,"v":0.113},{"x":0.625,"y":4.375,"v":0.105},{"x":0.875,"y":4.375,"v":0.097},{"x":1.125,"y":4.375,"v":0.087},{"x":1.375,"y":4.375,"v":0.074},{"x":1.625,"y":4.375,"v":0.062},{"x":1.875,"y":4.375,"v":0.049},{"x":2.125,"y":4.375,"v":0.038},{"x":2.375,"y":4.375,"v":0.028},{"x":2.625,"y":4.375,"v":0.022},{"x":2.875,"y":4.375,"v":0.017},{"x":3.125,"y":4.375,"v":0.012},{"x":3.375,"y":4.375,"v":0.01},{"x":3.625,"y":4.375,"v":0.01},{"x":3.875,"y":4.375,"v":0.01},{"x":4.125,"y":4.375,"v":0.01},{"x":4.375,"y":4.375,"v":0.01},{"x":4.625,"y":4.375,"v":0.01},{"x":4.875,"y":4.375,"v":0.01},
{"x":-1.875,"y":4.625,"v":0.99},{"x":-1.625,"y":4.625,"v":0.96},{"x":-1.375,"y":4.625,"v":0.85},{"x":-1.125,"y":4.625,"v":0.68},{"x":-0.875,"y":4.625,"v":0.51},{"x":-0.625,"y":4.625,"v":0.34},{"x":-0.375,"y":4.625,"v":0.21},{"x":-0.125,"y":4.625,"v":0.125},{"x":0.125,"y":4.625,"v":0.118},{"x":0.375,"y":4.625,"v":0.11},{"x":0.625,"y":4.625,"v":0.103},{"x":0.875,"y":4.625,"v":0.095},{"x":1.125,"y":4.625,"v":0.083},{"x":1.375,"y":4.625,"v":0.07},{"x":1.625,"y":4.625,"v":0.058},{"x":1.875,"y":4.625,"v":0.045},{"x":2.125,"y":4.625,"v":0.035},{"x":2.375,"y":4.625,"v":0.025},{"x":2.625,"y":4.625,"v":0.02},{"x":2.875,"y":4.625,"v":0.015},{"x":3.125,"y":4.625,"v":0.01},{"x":3.375,"y":4.625,"v":0.01},{"x":3.625,"y":4.625,"v":0.01},{"x":3.875,"y":4.625,"v":0.01},{"x":4.125,"y":4.625,"v":0.01},{"x":4.375,"y":4.625,"v":0.01},{"x":4.625,"y":4.625,"v":0.01},{"x":4.875,"y":4.625,"v":0.01},
{"x":-1.875,"y":4.875,"v":0.98},{"x":-1.625,"y":4.875,"v":0.95},{"x":-1.375,"y":4.875,"v":0.81},{"x":-1.125,"y":4.875,"v":0.64},{"x":-0.875,"y":4.875,"v":0.46},{"x":-0.625,"y":4.875,"v":0.29},{"x":-0.375,"y":4.875,"v":0.18},{"x":-0.125,"y":4.875,"v":0.123},{"x":0.125,"y":4.875,"v":0.116},{"x":0.375,"y":4.875,"v":0.108},{"x":0.625,"y":4.875,"v":0.101},{"x":0.875,"y":4.875,"v":0.091},{"x":1.125,"y":4.875,"v":0.079},{"x":1.375,"y":4.875,"v":0.066},{"x":1.625,"y":4.875,"v":0.054},{"x":1.875,"y":4.875,"v":0.042},{"x":2.125,"y":4.875,"v":0.032},{"x":2.375,"y":4.875,"v":0.024},{"x":2.625,"y":4.875,"v":0.019},{"x":2.875,"y":4.875,"v":0.014},{"x":3.125,"y":4.875,"v":0.01},{"x":3.375,"y":4.875,"v":0.01},{"x":3.625,"y":4.875,"v":0.01},{"x":3.875,"y":4.875,"v":0.01},{"x":4.125,"y":4.875,"v":0.01},{"x":4.375,"y":4.875,"v":0.01},{"x":4.625,"y":4.875,"v":0.01},{"x":4.875,"y":4.875,"v":0.01}
],
"solid":[
{"x":-0.97,"y":5.1},{"x":-0.86,"y":4.8},{"x":-0.75,"y":4.45},{"x":-0.6,"y":4.0},{"x":-0.45,"y":3.6},{"x":-0.3,"y":3.27},{"x":-0.14,"y":3.0},{"x":0.0,"y":2.78},{"x":0.2,"y":2.54},{"x":0.4,"y":2.38},{"x":0.62,"y":2.3},{"x":0.85,"y":2.32},{"x":1.1,"y":2.43},{"x":1.4,"y":2.64},{"x":1.8,"y":2.97},{"x":2.3,"y":3.42},{"x":2.9,"y":3.99},{"x":3.5,"y":4.58},{"x":4.0,"y":5.08}
],
"dashed":[
{"x":-0.97,"y":5.1},{"x":-0.86,"y":4.8},{"x":-0.75,"y":4.45},{"x":-0.6,"y":4.0},{"x":-0.45,"y":3.58},{"x":-0.3,"y":3.22},{"x":-0.16,"y":2.95},{"x":0.0,"y":2.55},{"x":0.15,"y":2.25},{"x":0.35,"y":1.98},{"x":0.6,"y":1.8},{"x":0.9,"y":1.73},{"x":1.2,"y":1.79},{"x":1.5,"y":1.96},{"x":1.9,"y":2.27},{"x":2.3,"y":2.63},{"x":2.67,"y":3.0},{"x":3.2,"y":3.52},{"x":3.7,"y":4.03},{"x":4.2,"y":4.55},{"x":4.65,"y":5.0},{"x":4.75,"y":5.1}
]
},
"config":{
"view":{"stroke":null},
"axis":{"grid":false,"domainColor":"black","domainWidth":1,"tickColor":"black","tickWidth":1,"tickSize":-5,"labelColor":"black","titleColor":"black","labelFont":"Liberation Serif","titleFont":"DejaVu Sans","titleFontWeight":"normal","titleFontSize":22,"labelOverlap":false,"labelFlush":false},
"legend":{"orient":"right","title":null,"gradientLength":245,"gradientThickness":13,"labelFont":"Liberation Serif","labelFontSize":29,"labelColor":"black","offset":15,"labelOffset":5,"gradientStrokeColor":"black","gradientStrokeWidth":1,"labelOverlap":false,"padding":0}
},
"spacing":30,
"resolve":{"scale":{"color":"independent"}},
"hconcat":[
{
"width":245,"height":245,
"title":{"text":"A","anchor":"start","frame":"bounds","orient":"top","font":"DejaVu Sans","fontSize":26,"fontWeight":"normal","color":"black","baseline":"top","offset":0,"dx":-40,"dy":28},
"layer":[
{"data":{"name":"A"},"mark":{"type":"rect","strokeWidth":0.6},
"encoding":{
"x":{"field":"x","type":"ordinal","axis":null,"scale":{"paddingInner":0,"paddingOuter":0}},
"y":{"field":"y","type":"ordinal","axis":null,"sort":"descending","scale":{"paddingInner":0,"paddingOuter":0}},
"color":{"field":"v","type":"quantitative","scale":{"domain":[0,0.11,0.125,0.34,0.35,0.375,0.64,0.65,0.66,0.89,0.91,1],"range":["#000080","#0000ff","#0000ff","#00dbff","#00e6f7","#15ffe2","#efff08","#f7f500","#ffec00","#ff1300","#e80000","#800000"],"interpolate":"rgb"},"legend":{"values":[0.0001,0.2,0.4,0.6,0.8,0.975],"format":".1f"}},
"stroke":{"field":"v","type":"quantitative","scale":{"domain":[0,0.11,0.125,0.34,0.35,0.375,0.64,0.65,0.66,0.89,0.91,1],"range":["#000080","#0000ff","#0000ff","#00dbff","#00e6f7","#15ffe2","#efff08","#f7f500","#ffec00","#ff1300","#e80000","#800000"],"interpolate":"rgb"},"legend":null}
}},
{"data":{"name":"solid"},"mark":{"type":"line","color":"black","strokeWidth":2,"clip":true,"interpolate":"monotone"},
"encoding":{
"x":{"field":"x","type":"quantitative","scale":{"domain":[-2,5],"nice":false,"zero":false},"axis":{"orient":"bottom","values":[-2,0,2,4],"labelExpr":"datum.value == -2 ? '10⁻²' : datum.value == 0 ? '10⁰' : datum.value == 2 ? '10²' : '10⁴'","labelFontSize":35,"labelPadding":12,"title":"Trans-interaction strength (r̂ₜ)","titlePadding":8,"titleX":130}},
"y":{"field":"y","type":"quantitative","scale":{"domain":[0,5],"nice":false,"zero":false},"axis":{"orient":"left","values":[0,2,4],"labelExpr":"datum.value == 0 ? '10⁰' : datum.value == 2 ? '10²' : '10⁴'","labelFontSize":28,"labelPadding":17,"labelOffset":-4,"title":"Ligand inhibition strength (b)","titleFontSize":21,"titlePadding":2,"titleY":143}}
}},
{"data":{"name":"dashed"},"mark":{"type":"line","color":"black","strokeWidth":2,"strokeDash":[7,4],"clip":true,"interpolate":"monotone"},
"encoding":{
"x":{"field":"x","type":"quantitative","scale":{"domain":[-2,5],"nice":false,"zero":false},"axis":{"orient":"top","values":[-2,0,2,4],"labels":false,"title":null}},
"y":{"field":"y","type":"quantitative","scale":{"domain":[0,5],"nice":false,"zero":false},"axis":{"orient":"right","values":[0,2,4],"labels":false,"title":null}}
}}
],
"resolve":{"scale":{"x":"independent","y":"independent"}}
},
{
"width":245,"height":245,
"title":{"text":"B","anchor":"start","frame":"bounds","orient":"top","font":"DejaVu Sans","fontSize":26,"fontWeight":"normal","color":"black","baseline":"top","offset":0,"dx":-40,"dy":28},
"layer":[
{"data":{"name":"B"},"mark":{"type":"rect","strokeWidth":0.6},
"encoding":{
"x":{"field":"x","type":"ordinal","axis":null,"scale":{"paddingInner":0,"paddingOuter":0}},
"y":{"field":"y","type":"ordinal","axis":null,"sort":"descending","scale":{"paddingInner":0,"paddingOuter":0}},
"color":{"field":"v","type":"quantitative","scale":{"domain":[0,0.11,0.125,0.34,0.35,0.375,0.64,0.65,0.66,0.89,0.91,1],"range":["#000080","#0000ff","#0000ff","#00dbff","#00e6f7","#15ffe2","#efff08","#f7f500","#ffec00","#ff1300","#e80000","#800000"],"interpolate":"rgb"},"legend":{"values":[0.0001,0.2,0.4,0.6,0.8,0.975],"format":".1f"}},
"stroke":{"field":"v","type":"quantitative","scale":{"domain":[0,0.11,0.125,0.34,0.35,0.375,0.64,0.65,0.66,0.89,0.91,1],"range":["#000080","#0000ff","#0000ff","#00dbff","#00e6f7","#15ffe2","#efff08","#f7f500","#ffec00","#ff1300","#e80000","#800000"],"interpolate":"rgb"},"legend":null}
}},
{"data":{"name":"solid"},"mark":{"type":"line","color":"black","strokeWidth":2,"clip":true,"interpolate":"monotone"},
"encoding":{
"x":{"field":"x","type":"quantitative","scale":{"domain":[-2,5],"nice":false,"zero":false},"axis":{"orient":"bottom","values":[-2,0,2,4],"labelExpr":"datum.value == -2 ? '10⁻²' : datum.value == 0 ? '10⁰' : datum.value == 2 ? '10²' : '10⁴'","labelFontSize":35,"labelPadding":12,"title":"Trans-interaction strength (r̂ₜ)","titlePadding":8,"titleX":135}},
"y":{"field":"y","type":"quantitative","scale":{"domain":[0,5],"nice":false,"zero":false},"axis":{"orient":"left","values":[0,2,4],"labelExpr":"datum.value == 0 ? '10⁰' : datum.value == 2 ? '10²' : '10⁴'","labelFontSize":28,"labelPadding":17,"labelOffset":-4,"title":"Ligand inhibition strength (b)","titleFontSize":21,"titlePadding":2,"titleY":143}}
}},
{"data":{"name":"dashed"},"mark":{"type":"line","color":"black","strokeWidth":2,"strokeDash":[7,4],"clip":true,"interpolate":"monotone"},
"encoding":{
"x":{"field":"x","type":"quantitative","scale":{"domain":[-2,5],"nice":false,"zero":false},"axis":{"orient":"top","values":[-2,0,2,4],"labels":false,"title":null}},
"y":{"field":"y","type":"quantitative","scale":{"domain":[0,5],"nice":false,"zero":false},"axis":{"orient":"right","values":[0,2,4],"labels":false,"title":null}}
}}
],
"resolve":{"scale":{"x":"independent","y":"independent"}}
}
]
}
